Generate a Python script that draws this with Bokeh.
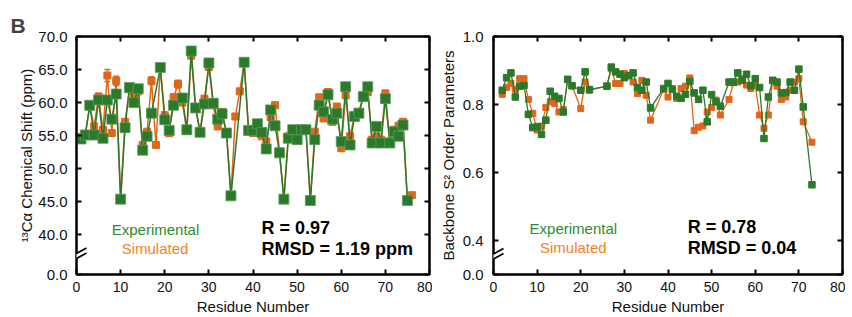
from bokeh.plotting import figure
from bokeh.models import (ColumnDataSource, FixedTicker, LinearAxis, Range1d, Label,
                          Whisker, TeeHead, Arrow, PolyAnnotation, PrintfTickFormatter)
from bokeh.layouts import row
from bokeh.embed import file_html
from bokeh.resources import INLINE

FONT = "Liberation Sans"
GREEN = "#2b7a2b"
GREEN_TXT = "#2e8b2e"
ORANGE = "#e0661c"
ORANGE_TXT = "#f5821f"

# ---------------- data: 13C-alpha chemical shifts ----------------
ca_exp_res = [1, 2, 3, 4, 5, 6, 7, 8, 9, 10, 11, 12, 13, 14, 15, 16, 17, 19, 20, 21, 22, 24, 25,
              26, 27, 28, 29, 30, 31, 32, 33, 34, 35, 38, 39, 40, 41, 42, 43, 44, 45, 46, 47, 48,
              49, 50, 51, 52, 53, 54, 55, 56, 57, 58, 59, 60, 61, 62, 63, 64, 65, 66, 67, 68, 69,
              70, 71, 72, 73, 74, 75]
ca_exp = [54.5, 55.1, 59.6, 55.1, 60.4, 54.6, 60.4, 57.5, 61.3, 45.4, 56.2, 62.3, 60.0, 62.1, 52.8,
          54.9, 58.4, 65.3, 57.4, 55.8, 59.6, 60.7, 55.9, 67.8, 59.2, 55.5, 59.8, 66.0, 59.9, 57.5,
          58.3, 55.4, 45.9, 66.1, 55.8, 55.8, 56.8, 55.5, 53.0, 58.9, 56.5, 52.4, 45.4, 54.6, 55.9,
          54.4, 55.9, 55.9, 45.2, 54.4, 59.6, 58.6, 61.2, 57.5, 58.4, 54.1, 62.4, 53.6, 57.9, 58.4,
          60.9, 62.4, 53.9, 56.4, 53.9, 60.6, 53.9, 55.6, 54.9, 56.6, 45.2]

ca_sim_res = list(range(1, 77))
ca_sim = [54.8, 55.3, 59.4, 56.4, 60.9, 55.9, 64.1, 55.4, 63.3, 45.4, 57.1, 62.0, 61.3, 61.7, 53.6,
          55.6, 63.3, 53.6, 65.3, 58.1, 55.4, 60.8, 62.8, 60.0, 55.7, 67.1, 59.1, 55.7, 60.6, 65.4,
          59.6, 56.4, 58.6, 55.4, 45.9, 57.9, 61.7, 66.0, 55.8, 55.4, 56.4, 54.9, 54.1, 57.8, 59.6,
          52.6, 45.4, 54.9, 55.4, 55.6, 55.9, 55.9, 45.2, 55.6, 60.8, 57.6, 61.6, 57.1, 59.4, 53.1,
          61.1, 54.9, 58.1, 58.6, 61.1, 61.6, 54.4, 54.9, 54.4, 61.4, 54.1, 55.9, 56.5, 57.1, 45.1,
          46.0]
ca_sim_err = [0.3, 0.3, 0.4, 0.4, 0.5, 0.4, 0.9, 0.4, 0.7, 0.2, 0.4, 0.3, 0.4, 0.4, 0.4,
              0.3, 0.6, 0.4, 0.3, 0.4, 0.4, 0.5, 0.6, 0.4, 0.4, 0.3, 0.4, 0.4, 0.4, 0.4,
              0.4, 0.3, 0.4, 0.3, 0.2, 0.4, 0.4, 0.3, 0.3, 0.4, 0.4, 0.3, 0.3, 0.4, 0.4,
              0.3, 0.2, 0.3, 0.3, 0.3, 0.3, 0.3, 0.2, 0.3, 0.4, 0.3, 0.4, 0.4, 0.4, 0.4,
              0.4, 0.4, 0.4, 0.4, 0.4, 0.4, 0.3, 0.3, 0.3, 0.4, 0.3, 0.3, 0.4, 0.4, 0.2,
              0.2]

# ---------------- data: backbone S2 order parameters ----------------
s2_res = [2, 3, 4, 5, 6, 7, 8, 9, 10, 11, 12, 13, 14, 15, 16, 17, 18, 20, 21, 22, 26, 27, 28, 29,
          30, 31, 32, 33, 34, 35, 36, 39, 40, 41, 42, 43, 44, 45, 46, 47, 48, 49, 50, 51, 52, 54,
          55, 56, 57, 58, 59, 60, 61, 62, 63, 64, 65, 66, 67, 68, 69, 70, 71, 73]
s2_exp = [0.842, 0.879, 0.893, 0.822, 0.854, 0.856, 0.771, 0.732, 0.735, 0.712, 0.754, 0.839,
          0.824, 0.818, 0.778, 0.874, 0.855, 0.842, 0.896, 0.844, 0.854, 0.910, 0.896, 0.889,
          0.879, 0.885, 0.893, 0.850, 0.842, 0.866, 0.790, 0.847, 0.862, 0.844, 0.824, 0.818,
          0.830, 0.868, 0.834, 0.815, 0.842, 0.749, 0.829, 0.808, 0.795, 0.866, 0.866, 0.893,
          0.871, 0.889, 0.855, 0.876, 0.850, 0.700, 0.822, 0.871, 0.866, 0.834, 0.835, 0.866,
          0.842, 0.904, 0.793, 0.564]
s2_sim = [0.830, 0.850, 0.862, 0.845, 0.876, 0.876, 0.815, 0.774, 0.725, 0.736, 0.791, 0.808,
          0.803, 0.778, 0.785, 0.874, 0.855, 0.788, 0.866, 0.842, 0.854, 0.905, 0.862, 0.862,
          0.891, 0.885, 0.866, 0.832, 0.871, 0.827, 0.754, 0.844, 0.822, 0.847, 0.818, 0.847,
          0.854, 0.878, 0.723, 0.733, 0.737, 0.778, 0.791, 0.813, 0.769, 0.815, 0.864, 0.866,
          0.876, 0.857, 0.847, 0.857, 0.769, 0.730, 0.769, 0.871, 0.854, 0.815, 0.822, 0.842,
          0.866, 0.876, 0.749, 0.689]

x_ticks = [0, 10, 20, 30, 40, 50, 60, 70, 80]
ca_ticks = [34.0, 40, 45, 50, 55, 60, 65, 70]
ca_tick_override = {34.0: "0.0"}
s2_ticks = [0.3, 0.4, 0.6, 0.8, 1.0]
s2_tick_override = {0.3: "0.0"}


def hidden_axis(ticks):
    # mirror axis: inward ticks only, labels not drawn
    return LinearAxis(ticker=FixedTicker(ticks=ticks), major_label_text_font_size="1px",
                      major_label_text_color=None, major_label_standoff=0,
                      major_tick_in=5, major_tick_out=0, minor_tick_line_color=None,
                      axis_line_width=2, major_tick_line_width=2)


def style(p, yticks, overrides, ylabel, ylabel_standoff, ylab_standoff):
    p.xgrid.grid_line_color = None
    p.ygrid.grid_line_color = None
    p.outline_line_color = "black"
    p.outline_line_width = 2
    p.background_fill_color = "white"
    p.border_fill_color = "white"
    xa = p.xaxis[0]
    xa.ticker = FixedTicker(ticks=x_ticks)
    xa.axis_label = "Residue Number"
    ya = p.yaxis[0]
    ya.ticker = FixedTicker(ticks=yticks)
    ya.formatter = PrintfTickFormatter(format="%.1f")
    ya.major_label_overrides = overrides
    ya.axis_label = ylabel
    for ax in (xa, ya):
        ax.axis_line_width = 2
        ax.major_tick_line_width = 2
        ax.major_tick_in = 5
        ax.major_tick_out = 0
        ax.minor_tick_line_color = None
        ax.major_label_text_font = FONT
        ax.major_label_text_color = "#111111"
        ax.axis_label_text_font = FONT
        ax.axis_label_text_font_size = "15px"
        ax.axis_label_text_font_style = "normal"
        ax.axis_label_text_color = "#111111"
    xa.major_label_text_font_size = "14px"
    ya.major_label_text_font_size = "15px"
    xa.major_label_standoff = 7
    xa.axis_label_standoff = 3
    ya.major_label_standoff = ylab_standoff
    ya.axis_label_standoff = ylabel_standoff
    p.add_layout(hidden_axis(x_ticks), "above")
    p.add_layout(hidden_axis(yticks), "right")


def add_break(p, yc, sx, sy):
    # decorative axis-break mark on the left axis; sx, sy = data units per pixel
    def pt(dx, dy):
        return dx * sx, yc - dy * sy
    xs, ys = zip(pt(-6, 5.8), pt(6, -0.8), pt(6, -5.8), pt(-6, 0.8))
    p.add_layout(PolyAnnotation(xs=list(xs), ys=list(ys), fill_color="white", fill_alpha=1.0,
                                line_color=None))
    for off in (2.5, -2.5):
        x0, y0 = pt(-10, off + 5.5)
        x1, y1 = pt(10, off - 5.5)
        p.add_layout(Arrow(x_start=x0, y_start=y0, x_end=x1, y_end=y1, end=None,
                           line_color="black", line_width=1.7))


def add_text(p, x, y, text, color, size, bold=False, align="left"):
    p.add_layout(Label(x=x, y=y, text=text, text_color=color, text_font=FONT,
                       text_font_size=size, text_font_style="bold" if bold else "normal",
                       text_align=align, text_baseline="middle"))


# ---------------- left panel ----------------
p1 = figure(width=432, height=317, output_backend="svg", toolbar_location=None,
            x_range=Range1d(0, 80), y_range=Range1d(34.0, 70.0),
            min_border_left=76, min_border_right=3, min_border_top=32, min_border_bottom=43)
style(p1, ca_ticks, ca_tick_override, "\u00b9\u00b3C\u03b1 Chemical Shift (ppm)", 0, 9)
p1.title.text = "B"
p1.title.text_font = FONT
p1.title.text_font_size = "21px"
p1.title.text_font_style = "bold"
p1.title.align = "left"
p1.title.offset = -66
p1.title.standoff = 0

sim_src = ColumnDataSource(dict(x=ca_sim_res, y=ca_sim,
                                lower=[v - e for v, e in zip(ca_sim, ca_sim_err)],
                                upper=[v + e for v, e in zip(ca_sim, ca_sim_err)]))
exp_src = ColumnDataSource(dict(x=ca_exp_res, y=ca_exp))

p1.line("x", "y", source=sim_src, line_color=ORANGE, line_width=1.5)
p1.add_layout(Whisker(source=sim_src, base="x", lower="lower", upper="upper",
                      line_color=ORANGE, line_width=1.5,
                      lower_head=TeeHead(size=6, line_color=ORANGE, line_width=1.5),
                      upper_head=TeeHead(size=6, line_color=ORANGE, line_width=1.5)))
p1.scatter("x", "y", source=sim_src, marker="square", size=7, fill_color=ORANGE,
           line_color=ORANGE)
p1.line("x", "y", source=exp_src, line_color=GREEN, line_width=1.5)
p1.scatter("x", "y", source=exp_src, marker="square", size=10, fill_color=GREEN,
           line_color="#5a9a5a", line_width=0.8)

sx1, sy1 = 80 / 353.0, 36.0 / 242.0
add_break(p1, 36.8, sx1, sy1)
add_text(p1, 17.9, 40.85, "Experimental", GREEN_TXT, "15px", align="center")
add_text(p1, 17.8, 37.9, "Simulated", ORANGE_TXT, "15px", align="center")
add_text(p1, 41.9, 41.0, "R = 0.97", "black", "18px", bold=True)
add_text(p1, 41.9, 37.9, "RMSD = 1.19 ppm", "black", "18px", bold=True)

# ---------------- right panel ----------------
p2 = figure(width=413, height=317, output_backend="svg", toolbar_location=None,
            x_range=Range1d(0, 80), y_range=Range1d(0.3, 1.0),
            min_border_left=61, min_border_right=3, min_border_top=36, min_border_bottom=42)
style(p2, s2_ticks, s2_tick_override, "Backbone S\u00b2 Order Parameters", 3, 10)

s2_src = ColumnDataSource(dict(x=s2_res, exp=s2_exp, sim=s2_sim))
p2.line("x", "sim", source=s2_src, line_color=ORANGE, line_width=1.3)
p2.scatter("x", "sim", source=s2_src, marker="square", size=6, fill_color=ORANGE,
           line_color=ORANGE)
p2.line("x", "exp", source=s2_src, line_color=GREEN, line_width=1.3)
p2.scatter("x", "exp", source=s2_src, marker="square", size=6.5, fill_color=GREEN,
           line_color=GREEN)

sx2, sy2 = 80 / 349.0, 0.7 / 239.0
add_break(p2, 0.353, sx2, sy2)
add_text(p2, 18.3, 0.435, "Experimental", GREEN_TXT, "15px", align="center")
add_text(p2, 18.3, 0.379, "Simulated", ORANGE_TXT, "15px", align="center")
add_text(p2, 44.5, 0.441, "R = 0.78", "black", "18px", bold=True)
add_text(p2, 44.5, 0.379, "RMSD = 0.04", "black", "18px", bold=True)

layout = row(p1, p2)
open("out.html", "w").write(file_html(layout, INLINE))
